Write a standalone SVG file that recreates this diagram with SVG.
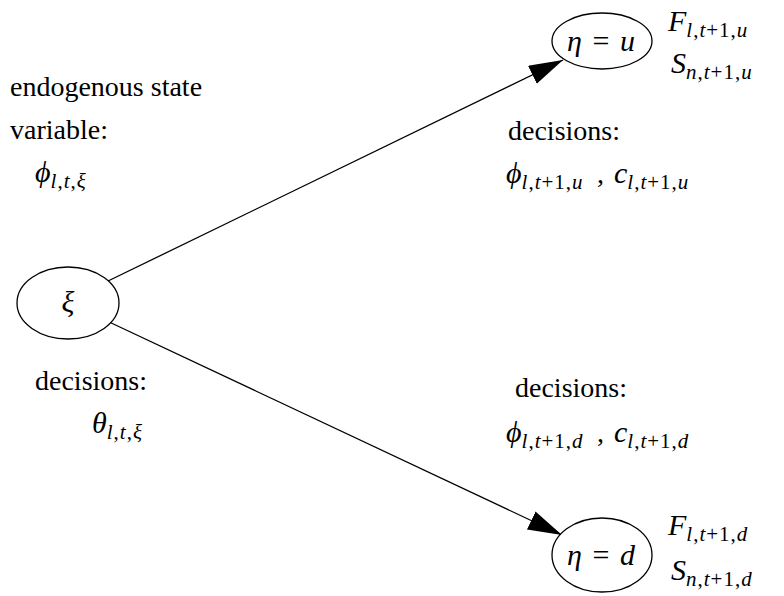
<svg xmlns="http://www.w3.org/2000/svg" width="784" height="596" viewBox="0 0 784 596">
<rect width="784" height="596" fill="#fff"/>
<defs>
<marker id="ah" markerUnits="userSpaceOnUse" markerWidth="36" markerHeight="22" refX="34" refY="10" orient="auto">
<path d="M0,0 L34,10 L0,20 z" fill="#000"/>
</marker>
</defs>
<g id="connectors" stroke="#000" stroke-width="1.3" fill="none">
<line x1="106" y1="282" x2="563" y2="60" marker-end="url(#ah)"/>
<line x1="107" y1="321" x2="562" y2="535" marker-end="url(#ah)"/>
</g>
<g id="node-xi">
<ellipse cx="68" cy="303" rx="51" ry="36" fill="#fff" stroke="#000" stroke-width="1.3"/>
<text x="68" y="312" font-size="30" font-family="Times New Roman" font-style="italic" text-anchor="middle">ξ</text>
</g>
<g id="node-up">
<ellipse cx="602" cy="41" rx="50" ry="28" fill="#fff" stroke="#000" stroke-width="1.3"/>
<text x="601" y="51" font-size="30" font-family="Times New Roman" text-anchor="middle"><tspan font-style="italic">η</tspan><tspan dx="3"> = </tspan><tspan font-style="italic" dx="3">u</tspan></text>
</g>
<g id="node-down">
<ellipse cx="602" cy="555" rx="50" ry="37" fill="#fff" stroke="#000" stroke-width="1.3"/>
<text x="601" y="565" font-size="30" font-family="Times New Roman" text-anchor="middle"><tspan font-style="italic">η</tspan><tspan dx="3"> = </tspan><tspan font-style="italic" dx="3">d</tspan></text>
</g>
<g id="labels">
<text x="10" y="96" font-size="28" font-family="Times New Roman">endogenous state</text>
<text x="10" y="139" font-size="28" font-family="Times New Roman">variable:</text>
<text x="35" y="182" font-size="30" font-family="Times New Roman"><tspan font-style="italic">ϕ</tspan><tspan font-size="21" letter-spacing="1" dy="6"><tspan font-style="italic">l</tspan>,<tspan font-style="italic">t</tspan>,<tspan font-style="italic">ξ</tspan></tspan></text>

<text x="508" y="140" font-size="28" font-family="Times New Roman">decisions:</text>
<text x="506" y="183" font-size="30" font-family="Times New Roman"><tspan font-style="italic">ϕ</tspan><tspan font-size="21" letter-spacing="1" dy="6"><tspan font-style="italic">l</tspan>,<tspan font-style="italic">t</tspan>+1,<tspan font-style="italic">u</tspan></tspan></text>
<text x="597" y="183" font-size="28" font-family="Times New Roman">,</text>
<text x="614" y="183" font-size="30" font-family="Times New Roman"><tspan font-style="italic">c</tspan><tspan font-size="21" letter-spacing="1" dy="6"><tspan font-style="italic">l</tspan>,<tspan font-style="italic">t</tspan>+1,<tspan font-style="italic">u</tspan></tspan></text>

<text x="668" y="31" font-size="30" font-family="Times New Roman"><tspan font-style="italic">F</tspan><tspan font-size="21" letter-spacing="1" dy="6"><tspan font-style="italic">l</tspan>,<tspan font-style="italic">t</tspan>+1,<tspan font-style="italic">u</tspan></tspan></text>
<text x="671" y="73" font-size="30" font-family="Times New Roman"><tspan font-style="italic">S</tspan><tspan font-size="21" letter-spacing="1" dy="6"><tspan font-style="italic">n</tspan>,<tspan font-style="italic">t</tspan>+1,<tspan font-style="italic">u</tspan></tspan></text>

<text x="35" y="390" font-size="28" font-family="Times New Roman">decisions:</text>
<text x="92" y="433" font-size="30" font-family="Times New Roman"><tspan font-style="italic">θ</tspan><tspan font-size="21" letter-spacing="1" dy="6"><tspan font-style="italic">l</tspan>,<tspan font-style="italic">t</tspan>,<tspan font-style="italic">ξ</tspan></tspan></text>

<text x="515" y="397" font-size="28" font-family="Times New Roman">decisions:</text>
<text x="506" y="442" font-size="30" font-family="Times New Roman"><tspan font-style="italic">ϕ</tspan><tspan font-size="21" letter-spacing="1" dy="6"><tspan font-style="italic">l</tspan>,<tspan font-style="italic">t</tspan>+1,<tspan font-style="italic">d</tspan></tspan></text>
<text x="597" y="442" font-size="28" font-family="Times New Roman">,</text>
<text x="614" y="442" font-size="30" font-family="Times New Roman"><tspan font-style="italic">c</tspan><tspan font-size="21" letter-spacing="1" dy="6"><tspan font-style="italic">l</tspan>,<tspan font-style="italic">t</tspan>+1,<tspan font-style="italic">d</tspan></tspan></text>

<text x="668" y="535" font-size="30" font-family="Times New Roman"><tspan font-style="italic">F</tspan><tspan font-size="21" letter-spacing="1" dy="6"><tspan font-style="italic">l</tspan>,<tspan font-style="italic">t</tspan>+1,<tspan font-style="italic">d</tspan></tspan></text>
<text x="671" y="580" font-size="30" font-family="Times New Roman"><tspan font-style="italic">S</tspan><tspan font-size="21" letter-spacing="1" dy="6"><tspan font-style="italic">n</tspan>,<tspan font-style="italic">t</tspan>+1,<tspan font-style="italic">d</tspan></tspan></text>
</g>
</svg>
